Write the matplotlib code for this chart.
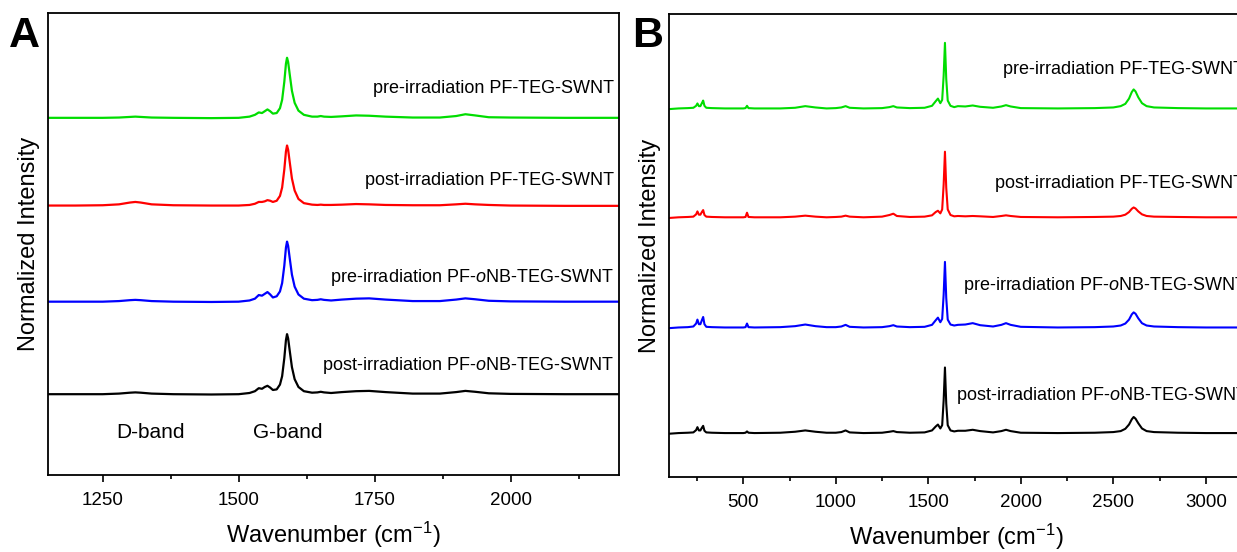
import numpy as np
import matplotlib
matplotlib.use("Agg")
import matplotlib.pyplot as plt
from matplotlib.ticker import MultipleLocator

plt.rcParams['font.family'] = ['Liberation Sans', 'DejaVu Sans']
plt.rcParams['mathtext.fontset'] = 'custom'
plt.rcParams['mathtext.rm'] = 'Liberation Sans'
plt.rcParams['mathtext.it'] = 'Liberation Sans:italic'

# ---- panel A data (zoom on G band region) ----
wn_a = [1150, 1200, 1250, 1280, 1300, 1310, 1320, 1340, 1380, 1450, 1500, 1520,
        1530, 1537, 1543, 1548, 1553, 1558, 1563, 1570, 1576, 1580, 1584, 1587,
        1589, 1591, 1594, 1598, 1603, 1610, 1620, 1635, 1645, 1651, 1657, 1670,
        1690, 1716, 1740, 1770, 1820, 1870, 1900, 1917, 1935, 1960, 2000, 2100, 2200]

pre_teg_a = [0.0, 0.0, 0.0, 0.005, 0.015, 0.02, 0.015, 0.005, 0.0, -0.005, 0.0, 0.02,
             0.05, 0.09, 0.08, 0.11, 0.14, 0.11, 0.07, 0.08, 0.16, 0.3, 0.6, 0.9,
             1.0, 0.93, 0.72, 0.45, 0.25, 0.12, 0.05, 0.02, 0.02, 0.03, 0.02, 0.015,
             0.025, 0.04, 0.035, 0.02, 0.005, 0.005, 0.03, 0.06, 0.04, 0.01, 0.005, 0.0, 0.0]

post_teg_a = [0.0, 0.0, 0.005, 0.02, 0.05, 0.06, 0.05, 0.02, 0.005, 0.0, 0.0, 0.01,
              0.03, 0.06, 0.06, 0.07, 0.09, 0.08, 0.06, 0.08, 0.16, 0.3, 0.6, 0.9,
              1.0, 0.93, 0.72, 0.45, 0.25, 0.11, 0.04, 0.015, 0.01, 0.015, 0.01, 0.01,
              0.015, 0.025, 0.02, 0.01, 0.005, 0.005, 0.02, 0.03, 0.02, 0.01, 0.0, -0.005, -0.005]

pre_onb_a = [0.0, 0.0, 0.0, 0.01, 0.025, 0.03, 0.025, 0.01, 0.0, -0.005, 0.0, 0.02,
             0.05, 0.11, 0.1, 0.13, 0.16, 0.12, 0.07, 0.09, 0.17, 0.31, 0.6, 0.9,
             1.0, 0.93, 0.72, 0.45, 0.25, 0.12, 0.05, 0.025, 0.03, 0.04, 0.03, 0.02,
             0.035, 0.05, 0.055, 0.035, 0.01, 0.01, 0.035, 0.055, 0.04, 0.015, 0.005, 0.0, 0.0]

post_onb_a = [0.0, 0.0, 0.0, 0.01, 0.025, 0.03, 0.025, 0.01, 0.0, -0.005, 0.0, 0.02,
              0.05, 0.1, 0.09, 0.12, 0.14, 0.11, 0.07, 0.08, 0.16, 0.3, 0.6, 0.9,
              1.0, 0.93, 0.72, 0.45, 0.25, 0.12, 0.05, 0.025, 0.03, 0.04, 0.03, 0.02,
              0.035, 0.05, 0.055, 0.035, 0.01, 0.01, 0.035, 0.055, 0.04, 0.015, 0.005, 0.0, 0.0]

# ---- panel B data (full spectrum) ----
wn_b = [100, 150, 200, 230, 245, 252, 260, 268, 276, 283, 290, 300, 330, 400, 500,
        512, 520, 528, 560, 700, 780, 835, 890, 950, 1000, 1030, 1053, 1075, 1150,
        1250, 1290, 1311, 1330, 1400, 1480, 1520, 1540, 1552, 1565, 1575, 1583, 1590,
        1597, 1605, 1620, 1640, 1660, 1700, 1740, 1780, 1850, 1895, 1920, 1945, 2000,
        2200, 2400, 2500, 2540, 2565, 2585, 2600, 2610, 2620, 2635, 2655, 2680, 2720,
        2850, 3000, 3200]

pre_teg_b = [-0.01, 0.0, 0.005, 0.01, 0.04, 0.076, 0.035, 0.035, 0.08, 0.12, 0.04, 0.01, 0.005, 0.0, 0.0,
             0.005, 0.04, 0.005, 0.0, 0.0, 0.01, 0.035, 0.015, 0.0, 0.005, 0.015, 0.035, 0.01, 0.0,
             0.005, 0.02, 0.035, 0.015, 0.005, 0.01, 0.04, 0.11, 0.15, 0.08, 0.13, 0.5, 1.0,
             0.45, 0.12, 0.04, 0.02, 0.035, 0.03, 0.045, 0.025, 0.01, 0.03, 0.05, 0.03, 0.005,
             0.0, 0.005, 0.015, 0.035, 0.07, 0.15, 0.25, 0.29, 0.26, 0.17, 0.08, 0.035, 0.015,
             0.005, 0.0, 0.0]

post_teg_b = [-0.01, 0.0, 0.005, 0.01, 0.045, 0.09, 0.04, 0.04, 0.08, 0.11, 0.035, 0.01, 0.005, 0.0, 0.0,
              0.005, 0.07, 0.005, 0.0, 0.0, 0.01, 0.025, 0.01, 0.0, 0.005, 0.01, 0.025, 0.01, 0.0,
              0.01, 0.035, 0.055, 0.02, 0.005, 0.01, 0.03, 0.08, 0.1, 0.06, 0.12, 0.5, 1.0,
              0.45, 0.12, 0.035, 0.015, 0.02, 0.015, 0.02, 0.015, 0.005, 0.02, 0.03, 0.02, 0.005,
              0.0, 0.005, 0.01, 0.02, 0.04, 0.08, 0.13, 0.15, 0.135, 0.09, 0.045, 0.02, 0.01,
              0.005, 0.0, 0.0]

pre_onb_b = [-0.01, 0.0, 0.005, 0.015, 0.06, 0.12, 0.05, 0.05, 0.11, 0.16, 0.05, 0.01, 0.005, 0.0, 0.0,
             0.005, 0.06, 0.005, 0.0, 0.005, 0.02, 0.045, 0.02, 0.005, 0.005, 0.015, 0.04, 0.01, 0.0,
             0.005, 0.02, 0.035, 0.015, 0.005, 0.01, 0.04, 0.11, 0.15, 0.08, 0.13, 0.5, 1.0,
             0.45, 0.12, 0.045, 0.03, 0.04, 0.045, 0.066, 0.035, 0.015, 0.04, 0.066, 0.04, 0.01,
             0.0, 0.005, 0.015, 0.03, 0.06, 0.12, 0.2, 0.23, 0.21, 0.14, 0.065, 0.03, 0.015,
             0.005, 0.0, 0.0]

post_onb_b = [-0.01, 0.0, 0.005, 0.01, 0.045, 0.09, 0.04, 0.04, 0.08, 0.11, 0.035, 0.01, 0.005, 0.0, 0.0,
              0.005, 0.025, 0.005, 0.0, 0.005, 0.02, 0.04, 0.02, 0.005, 0.005, 0.015, 0.04, 0.01, 0.0,
              0.005, 0.02, 0.03, 0.015, 0.005, 0.01, 0.04, 0.1, 0.13, 0.07, 0.12, 0.5, 1.0,
              0.45, 0.12, 0.04, 0.025, 0.035, 0.035, 0.05, 0.03, 0.01, 0.03, 0.05, 0.03, 0.005,
              0.0, 0.005, 0.015, 0.03, 0.065, 0.13, 0.21, 0.245, 0.22, 0.15, 0.07, 0.03, 0.015,
              0.005, 0.0, 0.0]

labels = ['pre-irradiation PF-TEG-SWNT', 'post-irradiation PF-TEG-SWNT',
          'pre-irradiation PF-$\\mathit{o}$NB-TEG-SWNT', 'post-irradiation PF-$\\mathit{o}$NB-TEG-SWNT']
colors = ['#00dd00', '#ff0000', '#0000ff', '#000000']
offsets_a = [4.6, 3.14, 1.54, 0.0]
offsets_b = [4.95, 3.29, 1.61, 0.0]

fig = plt.figure(figsize=(12.37, 5.52), dpi=100)
W, H = 1237.0, 552.0
ax1 = fig.add_axes([48.3 / W, 1 - 475.3 / H, (619.3 - 48.3) / W, (475.3 - 13.3) / H])
ax2 = fig.add_axes([669.3 / W, 1 - 477 / H, (1242.8 - 669.3) / W, (477 - 14) / H])

series_a = [pre_teg_a, post_teg_a, pre_onb_a, post_onb_a]
series_b = [pre_teg_b, post_teg_b, pre_onb_b, post_onb_b]

for ys, c, off in zip(series_a, colors, offsets_a):
    ax1.plot(wn_a, np.array(ys) + off, color=c, lw=1.6)
for ys, c, off in zip(series_b, colors, offsets_b):
    ax2.plot(wn_b, np.array(ys) + off, color=c, lw=1.5)

ax1.set_xlim(1150, 2200)
ax1.set_ylim(-1.35, 6.34)
ax2.set_xlim(100, 3200)
ax2.set_ylim(-0.67, 6.39)

# curve labels
ya = [5.08, 3.55, 1.945, 0.483]
for lab, y in zip(labels, ya):
    ax1.text(2190, y, lab, ha='right', va='center', fontsize=13)
xb = [1906, 1859, 1689, 1650]
yb = [5.54, 3.80, 2.245, 0.569]
for lab, x, y in zip(labels, xb, yb):
    ax2.text(x, y, lab, ha='left', va='center', fontsize=13, clip_on=False)

ax1.text(1338, -0.645, 'D-band', ha='center', va='center', fontsize=15)
ax1.text(1590, -0.645, 'G-band', ha='center', va='center', fontsize=15)

ax1.xaxis.set_major_locator(MultipleLocator(250))
ax1.xaxis.set_minor_locator(MultipleLocator(125))
ax2.xaxis.set_major_locator(MultipleLocator(500))
ax2.xaxis.set_minor_locator(MultipleLocator(250))

for ax in (ax1, ax2):
    ax.set_yticks([])
    ax.tick_params(axis='x', which='major', direction='out', length=5, width=1.2,
                   labelsize=13.5, pad=7)
    ax.tick_params(axis='x', which='minor', direction='out', length=3, width=1.2)
    for sp in ax.spines.values():
        sp.set_linewidth(1.3)
    ax.set_xlabel('Wavenumber (cm$^{-1}$)', fontsize=17, labelpad=8)
    ax.set_ylabel('Normalized Intensity', fontsize=17, labelpad=6)

fig.text(9 / W, 1 - 36 / H, 'A', fontsize=31, fontweight='bold', va='center', ha='left')
fig.text(632 / W, 1 - 36 / H, 'B', fontsize=31, fontweight='bold', va='center', ha='left')

fig.savefig('out.png', dpi=100)
